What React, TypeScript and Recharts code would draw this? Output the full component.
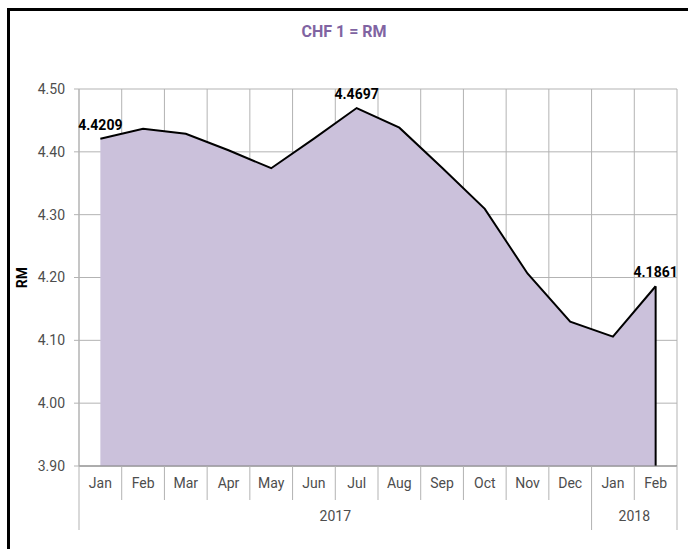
import React from 'react';
import { Area, AreaChart, CartesianGrid, LabelList, ReferenceLine, XAxis, YAxis } from 'recharts';

const months = ['Jan', 'Feb', 'Mar', 'Apr', 'May', 'Jun', 'Jul', 'Aug', 'Sep', 'Oct', 'Nov', 'Dec', 'Jan', 'Feb'];
const rates = [4.4209, 4.4368, 4.4288, 4.4025, 4.3739, 4.4210, 4.4697, 4.4384, 4.3746, 4.3092, 4.2064, 4.1298, 4.1059, 4.1861];
const years = [
  { label: '2017', from: 0, to: 11 },
  { label: '2018', from: 12, to: 13 },
];
const yTicks = [3.9, 4.0, 4.1, 4.2, 4.3, 4.4, 4.5];
const labelled = [0, 6, 13];

const FONT = 'Roboto, "Noto Sans", sans-serif';
const AXIS_GREY = '#4d4d4d';
const GRID_GREY = '#b3b3b3';
const FILL = '#cbc1db';
const PURPLE = '#8064a2';

const data = months.map((m, i) => ({ i, month: m, rate: rates[i] }));
const last = data.length - 1;
const boundaries = data.map((d) => d.i - 0.5).concat([last + 0.5]);
const axisTicks = boundaries.concat(data.map((d) => d.i)).sort((a, b) => a - b);
const yearEdges = years.map((y) => y.from - 0.5).concat([last + 0.5]);

function MonthTick(props: any) {
  const { x, y, payload } = props;
  const v = payload.value as number;
  if (Number.isInteger(v)) {
    return (
      <text x={x} y={y + 22} textAnchor="middle" fill={AXIS_GREY} fontSize={14} fontFamily={FONT}>
        {months[v]}
      </text>
    );
  }
  const isYearEdge = yearEdges.includes(v);
  const year = years.find((yr) => (yr.from + yr.to) / 2 === v);
  return (
    <g>
      <line x1={x} x2={x} y1={y} y2={y + (isYearEdge ? 64 : 34)} stroke={GRID_GREY} strokeWidth={1} />
      {year && (
        <text x={x} y={y + 55} textAnchor="middle" fill={AXIS_GREY} fontSize={14} fontFamily={FONT}>
          {year.label}
        </text>
      )}
    </g>
  );
}

function RateLabel(props: any) {
  const { x, y, value, index } = props;
  if (!labelled.includes(index)) return null;
  return (
    <text x={x} y={y - 9} textAnchor="middle" fill="#000" fontSize={14} fontWeight="bold" fontFamily={FONT}>
      {Number(value).toFixed(4)}
    </text>
  );
}

export default function App() {
  return (
    <div style={{ position: 'fixed', left: 0, top: 0, width: 688, height: 549, overflow: 'hidden', background: '#fff' }}>
      <div
        style={{
          position: 'absolute',
          left: 7,
          top: 8,
          width: 720,
          height: 600,
          border: '3px solid #000',
          boxSizing: 'border-box',
        }}
      />
      <div
        style={{
          position: 'absolute',
          left: 0,
          top: 22,
          width: 688,
          textAlign: 'center',
          color: PURPLE,
          fontFamily: FONT,
          fontWeight: 'bold',
          fontSize: 16,
        }}
      >
        CHF 1 = RM
      </div>
      <div style={{ position: 'absolute', left: 0, top: 0 }}>
        <AreaChart width={688} height={549} data={data} margin={{ top: 89, right: 11, bottom: 23, left: 10 }}>
          <CartesianGrid xAxisId="grid" stroke={GRID_GREY} strokeWidth={1} />
          <XAxis
            xAxisId="grid"
            dataKey="i"
            type="number"
            domain={[-0.5, last + 0.5]}
            ticks={boundaries}
            hide
          />
          <XAxis
            dataKey="i"
            type="number"
            domain={[-0.5, last + 0.5]}
            ticks={axisTicks}
            interval={0}
            tickLine={false}
            tickSize={0}
            tickMargin={0}
            height={60}
            axisLine={{ stroke: '#808080' }}
            tick={<MonthTick />}
          />
          <YAxis
            domain={[3.9, 4.5]}
            allowDataOverflow
            ticks={yTicks}
            interval={0}
            width={69}
            tickSize={5}
            tickMargin={9}
            tickLine={{ stroke: GRID_GREY }}
            axisLine={{ stroke: GRID_GREY }}
            tick={{ fill: AXIS_GREY, fontSize: 14, fontFamily: FONT }}
            tickFormatter={(v: number) => v.toFixed(2)}
            label={{
              value: 'RM',
              angle: -90,
              position: 'insideLeft',
              offset: 12,
              style: { fill: '#000', fontWeight: 'bold', fontSize: 14, fontFamily: FONT, textAnchor: 'middle' },
            }}
          />
          <Area
            dataKey="rate"
            type="linear"
            baseValue="dataMin"
            stroke="#000"
            strokeWidth={2}
            fill={FILL}
            fillOpacity={1}
            dot={false}
            activeDot={false}
            isAnimationActive={false}
          >
            <LabelList dataKey="rate" content={<RateLabel />} />
          </Area>
          <ReferenceLine
            segment={[
              { x: last, y: yTicks[0] },
              { x: last, y: rates[last] },
            ]}
            stroke="#000"
            strokeWidth={2}
          />
        </AreaChart>
      </div>
    </div>
  );
}
